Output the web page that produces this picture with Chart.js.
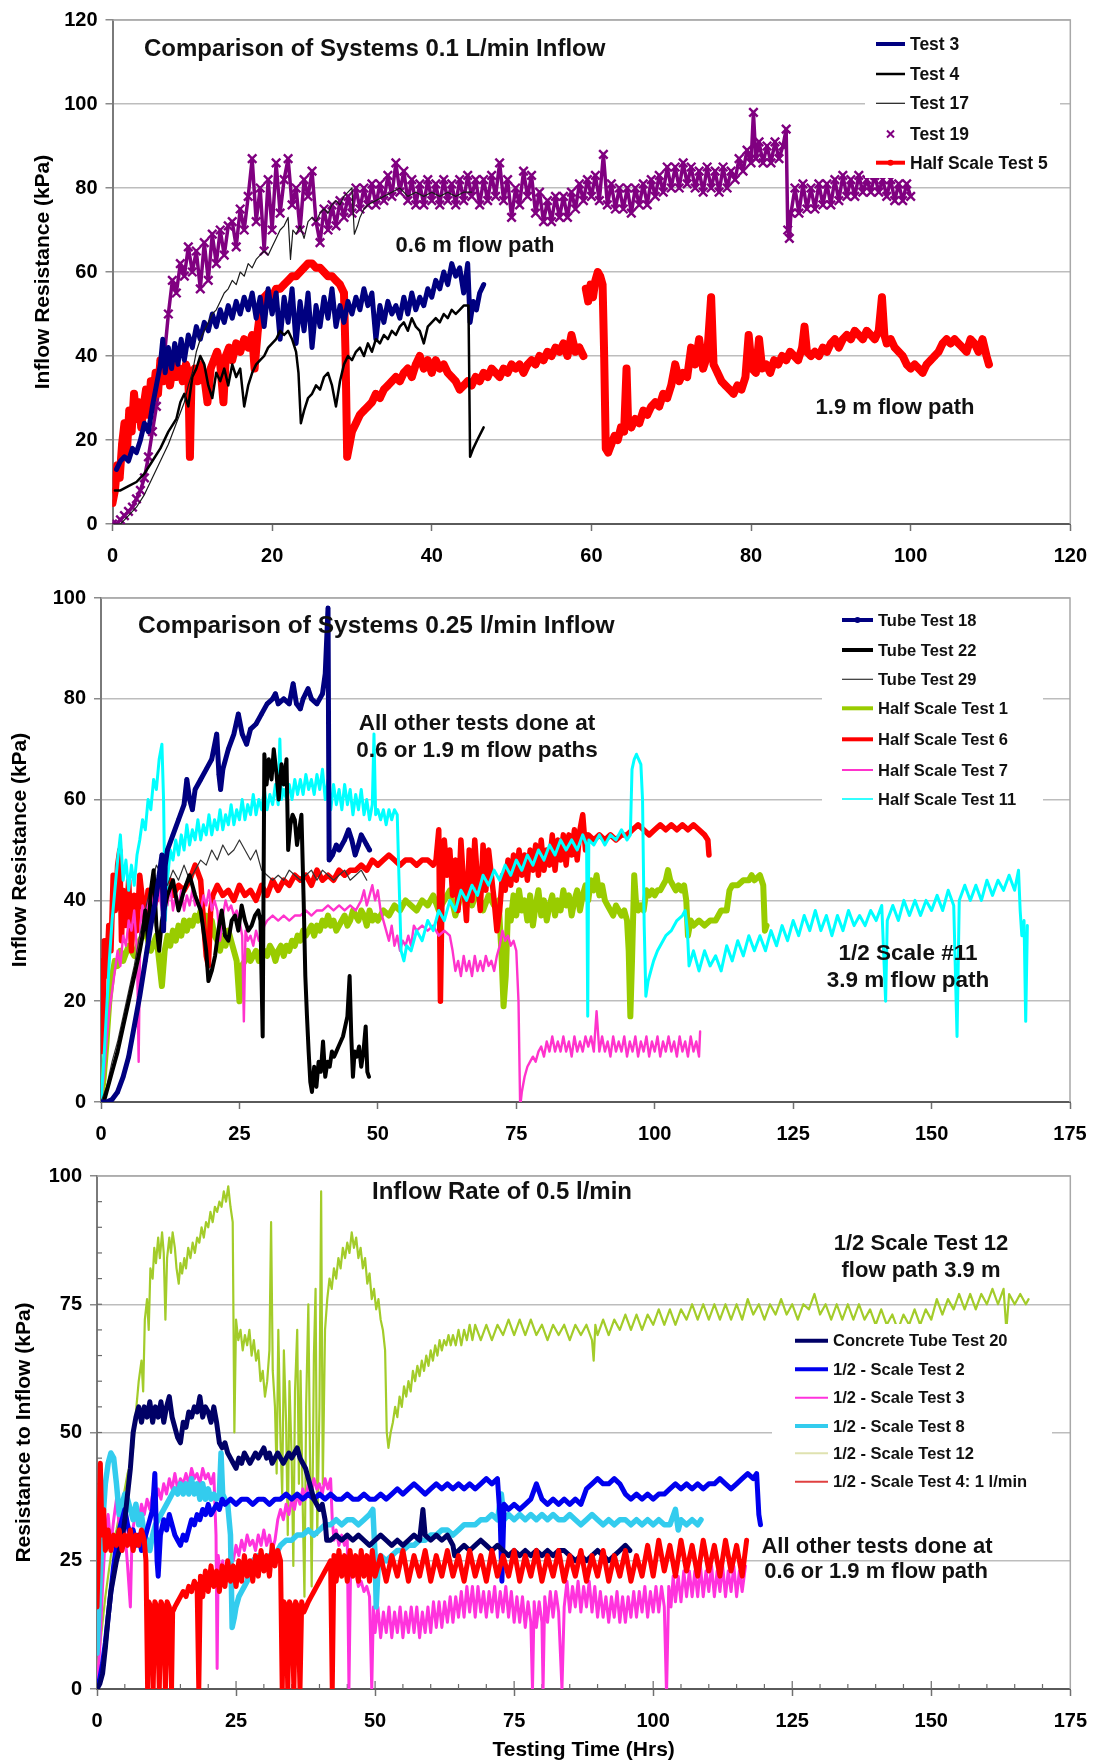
<!DOCTYPE html>
<html><head><meta charset="utf-8">
<script src="https://cdn.jsdelivr.net/npm/chart.js@4.4.0/dist/chart.umd.min.js"></script>
<style>
html,body{margin:0;padding:0;background:#fff;width:1100px;height:1764px;overflow:hidden}
.p{position:absolute;left:0;width:1100px}
canvas{display:block}
</style></head><body>
<div class="p" style="top:0;height:578px"><canvas id="c1" width="1100" height="578"></canvas></div>
<div class="p" style="top:578px;height:578px"><canvas id="c2" width="1100" height="578"></canvas></div>
<div class="p" style="top:1156px;height:608px"><canvas id="c3" width="1100" height="608"></canvas></div>
<script>
const FONT = '"Liberation Sans", Arial, Helvetica, sans-serif';

/* ================= PANEL 1 : 0.1 L/min ================= */
const p1XTicks = [0,20,40,60,80,100,120];
const p1YTicks = [0,20,40,60,80,100,120];
const p1Names = ['Test 3','Test 4','Test 17','Test 19','Half Scale Test 5'];

const p1Test3 = [[0.5,13],[1,15],[1.5,16],[2,15],[2.5,18],[3,17],[3.5,20],[4,24],[4.5,22],[5,28],[5.5,33],[6,38],[6.3,44],[6.6,36],[7,42],[7.4,37],[7.8,43],[8.2,38],[8.6,44],[9,39],[9.5,45],[10,42],[10.5,47],[11,44],[11.5,48],[12,46],[12.5,50],[13,47],[13.5,51],[14,48],[14.5,52],[15,49],[15.5,53],[16,50],[16.5,54],[17,51],[17.5,55],[18,49],[18.5,54],[19,47],[19.5,56],[20,50],[20.5,55],[21,44],[21.5,54],[22,48],[22.5,56],[23,43],[23.5,53],[24,46],[24.5,55],[25,42],[25.5,52],[26,47],[26.5,54],[27,49],[27.5,56],[28,47],[28.5,52],[29,48],[29.5,53],[30,50],[30.5,54],[31,51],[31.5,56],[32,52],[32.5,55],[33,44],[33.5,52],[34,48],[34.5,53],[35,50],[35.5,52],[36,49],[36.5,54],[37,50],[37.5,55],[38,51],[38.5,54],[39,52],[39.5,56],[40,54],[40.5,58],[41,56],[41.5,60],[42,57],[42.5,62],[43,59],[43.5,61],[44,55],[44.5,62],[44.8,48],[45.2,53],[45.6,51],[46,55],[46.5,57]];

const p1Test4 = [[0.3,8],[1,8],[2,9],[3,10],[4,12],[5,15],[6,18],[7,22],[8,25],[8.5,29],[9,31],[9.5,28],[10,35],[10.5,37],[11,40],[11.5,38],[12,33],[12.5,30],[13,36],[13.5,34],[14,37],[14.5,33],[15,38],[15.5,35],[16,37],[16.5,28],[17,33],[17.5,36],[18,38],[18.5,39],[19,40],[19.5,42],[20,43],[20.5,44],[21,46],[21.5,45],[22,46],[22.5,44],[23,41],[23.3,36],[23.6,24],[24,27],[24.5,30],[25,31],[25.5,33],[26,32],[26.5,35],[27,36],[27.5,33],[28,28],[28.5,34],[29,38],[29.5,40],[30,39],[30.5,41],[31,42],[31.5,40],[32,43],[32.5,41],[33,44],[33.5,43],[34,45],[34.5,44],[35,46],[35.5,45],[36,47],[36.5,48],[37,46],[37.5,49],[38,47],[38.5,46],[39,43],[39.5,47],[40,48],[40.5,49],[41,48],[41.5,50],[42,49],[42.5,51],[43,50],[43.5,51],[44,52],[44.6,52],[44.8,16],[45.2,18],[45.7,20],[46.5,23]];

const p1Test17 = [[0,0],[1,0],[1.5,1],[2,2],[3,4],[4,7],[5,11],[6,15],[7,19],[8,24],[9,29],[9.5,33],[10,36],[10.5,41],[11,44],[11.5,46],[12,48],[12.5,50],[13,51],[13.5,53],[14,55],[14.5,56],[15,58],[15.5,57],[16,60],[16.5,59],[17,62],[17.5,61],[18,63],[18.5,64],[19,65],[19.5,64],[20,66],[20.5,68],[21,70],[21.5,71],[22,73],[22.3,63],[22.6,70],[23,69],[23.5,71],[24,68],[24.5,72],[25,73],[25.5,72],[26,74],[26.5,75],[27,74],[27.5,76],[28,77],[28.5,76],[29,78],[29.5,79],[30,80],[30.3,69],[30.7,71],[31,73],[31.5,75],[32,76],[33,77],[34,78],[35,79],[36,80],[37,78],[38,79],[39,78],[40,79],[41,78],[42,79],[43,78],[44,79],[45,79]];

const p1Test19 = [[0,0],[0.5,0],[1,1],[1.5,2],[2,3],[2.5,4],[3,6],[3.5,8],[4,11],[4.5,16],[5,22],[5.5,28],[6,35],[6.5,40],[7,50],[7.5,58],[8,55],[8.5,62],[9,59],[9.5,66],[10,60],[10.5,65],[11,56],[11.5,67],[12,58],[12.5,69],[13,62],[13.5,70],[14,64],[14.5,71],[15,72],[15.5,66],[16,75],[16.5,70],[17,78],[17.5,87],[18,72],[18.5,80],[19,65],[19.5,82],[20,70],[20.5,86],[21,74],[21.5,82],[22,87],[22.5,76],[23,80],[23.5,70],[24,82],[24.5,78],[25,84],[25.5,72],[26,67],[26.5,75],[27,70],[27.5,76],[28,71],[28.5,77],[29,73],[29.5,78],[30,74],[30.5,80],[31,75],[31.5,80],[32,76],[32.5,81],[33,76],[33.5,81],[34,77],[34.5,83],[35,78],[35.5,86],[36,79],[36.5,84],[37,77],[37.5,82],[38,76],[38.5,81],[39,76],[39.5,82],[40,77],[40.5,81],[41,76],[41.5,82],[42,77],[42.5,81],[43,76],[43.5,82],[44,77],[44.5,83],[45,78],[45.5,82],[46,76],[46.5,82],[47,77],[47.5,83],[48,78],[48.5,86],[49,77],[49.5,82],[50,73],[50.5,80],[51,76],[51.5,84],[52,78],[52.5,83],[53,74],[53.5,79],[54,72],[54.5,77],[55,72],[55.5,78],[56,73],[56.5,78],[57,73],[57.5,79],[58,75],[58.5,81],[59,77],[59.5,82],[60,78],[60.5,83],[61,77],[61.5,88],[62,76],[62.5,81],[63,75],[63.5,80],[64,75],[64.5,80],[65,74],[65.5,80],[66,76],[66.5,81],[67,76],[67.5,82],[68,78],[68.5,83],[69,79],[69.5,85],[70,80],[70.5,85],[71,80],[71.5,86],[72,81],[72.5,85],[73,80],[73.5,84],[74,79],[74.5,85],[75,80],[75.5,84],[76,79],[76.5,85],[77,80],[77.5,84],[78,82],[78.5,87],[79,84],[79.5,89],[80,86],[80.3,98],[80.6,87],[81,91],[81.5,86],[82,90],[82.5,86],[83,91],[83.5,87],[84,90],[84.4,94],[84.6,70],[84.8,68],[85,74],[85.5,80],[86,74],[86.5,81],[87,75],[87.5,80],[88,75],[88.5,81],[89,76],[89.5,81],[90,76],[90.5,82],[91,77],[91.5,83],[92,78],[92.5,82],[93,78],[93.5,83],[94,79],[94.5,82],[95,79],[95.5,83],[96,79],[96.5,82],[97,78],[97.5,82],[98,77],[98.5,81],[99,77],[99.5,81],[100,78]];

const p1Half5 = [[0,5],[0.3,8],[0.6,14],[0.9,11],[1.2,19],[1.5,24],[1.8,17],[2.1,27],[2.4,22],[2.7,31],[3,25],[3.3,29],[3.6,23],[3.9,28],[4.2,32],[4.5,26],[4.8,34],[5.1,30],[5.4,36],[5.7,31],[6,39],[6.4,34],[6.8,37],[7.2,33],[7.6,38],[8,35],[8.4,37],[8.8,34],[9.2,38],[9.5,36],[9.7,16],[9.9,35],[10.3,37],[10.7,34],[11.1,38],[11.5,35],[11.9,29],[12.3,37],[12.7,39],[13.1,41],[13.5,38],[13.9,29],[14.2,40],[14.6,42],[15,39],[15.5,43],[16,41],[16.5,44],[17,42],[17.5,45],[17.8,37],[18.2,46],[18.6,52],[19,54],[19.5,55],[20,54],[20.5,56],[21,56],[21.5,57],[22,58],[22.5,59],[23,59],[23.5,60],[24,61],[24.5,62],[25,62],[25.5,61],[26,61],[26.5,60],[27,59],[27.5,59],[28,58],[28.5,57],[29,55],[29.2,40],[29.4,16],[29.7,19],[30,22],[30.5,24],[31,26],[31.5,27],[32,28],[32.5,29],[33,31],[33.5,30],[34,32],[34.5,33],[35,34],[35.5,35],[36,34],[36.5,36],[37,37],[37.5,35],[38,38],[38.5,40],[39,37],[39.5,39],[40,36],[40.5,39],[41,37],[41.5,38],[42,36],[42.5,35],[43,34],[43.5,32],[44,33],[44.5,34],[45,33],[45.5,35],[46,34],[46.5,36],[47,35],[47.5,37],[48,36],[48.5,35],[49,37],[49.5,36],[50,38],[50.5,37],[51,38],[51.5,36],[52,38],[52.5,39],[53,38],[53.5,40],[54,39],[54.5,41],[55,40],[55.5,42],[56,41],[56.5,43],[57,40],[57.5,45],[58,41],[58.5,42],[59,40],[59.2,null],[59.3,56],[59.6,53],[59.9,57],[60.2,54],[60.5,58],[60.8,60],[61.1,59],[61.4,57],[61.6,40],[61.8,18],[62.1,17],[62.5,19],[62.9,21],[63.3,20],[63.7,23],[64.1,22],[64.4,37],[64.6,24],[65,23],[65.5,25],[66,24],[66.5,27],[67,26],[67.5,28],[68,29],[68.5,28],[69,31],[69.5,30],[70,33],[70.5,38],[71,34],[71.5,36],[72,35],[72.5,42],[73,38],[73.5,44],[74,37],[74.5,40],[75,54],[75.3,38],[75.8,36],[76.3,34],[76.8,33],[77.3,32],[77.8,31],[78.3,33],[78.8,32],[79.3,35],[79.7,45],[80.1,37],[80.6,36],[81,44],[81.4,37],[81.9,38],[82.4,36],[82.9,39],[83.4,38],[83.9,40],[84.4,39],[84.9,41],[85.4,40],[85.9,39],[86.4,42],[86.7,47],[87,41],[87.5,40],[88,41],[88.5,40],[89,42],[89.5,41],[90,43],[90.5,44],[91,42],[91.5,44],[92,45],[92.5,44],[93,46],[93.5,45],[94,44],[94.5,46],[95,45],[95.5,44],[96,46],[96.4,54],[96.7,45],[97,43],[97.5,44],[98,42],[98.5,41],[99,40],[99.5,38],[100,37],[100.5,38],[101,37],[101.5,36],[102,38],[102.5,39],[103,40],[103.5,41],[104,43],[104.5,44],[105,43],[105.5,44],[106,43],[106.5,42],[107,41],[107.5,44],[108,43],[108.5,41],[109,44],[109.5,40],[109.8,38]];

/* ================= PANEL 2 : 0.25 l/min ================= */
const p2XTicks = [0,25,50,75,100,125,150,175];
const p2YTicks = [0,20,40,60,80,100];
const p2Names = ['Tube Test 18','Tube Test 22','Tube Test 29','Half Scale Test 1','Half Scale Test 6','Half Scale Test 7','Half Scale Test 11'];

const p2Tube18 = [[0,0],[1,0],[2,0.5],[3,2],[4,5],[5,9],[6,15],[7,21],[8,28],[9,35],[10,41],[10.5,45],[11,49],[11.3,34],[11.6,47],[12,50],[13,53],[14,56],[15,59],[15.5,64],[16,60],[16.5,58],[17,62],[18,64],[19,66],[20,68],[20.9,73],[21.3,65],[21.6,62],[22,66],[23,70],[24,73],[24.8,77],[25.5,73],[26.3,71],[27,74],[28,75],[29,77],[30,79],[31,80],[31.5,81],[32,79],[33,80],[34,79],[34.7,83],[35.3,79],[36,78],[36.5,80],[37.4,82],[38,80],[39,79],[40,81],[40.5,85],[41,98],[41.2,48],[41.8,49],[42.5,51],[43,50],[44,52],[44.7,54],[45.3,52],[45.9,49],[46.5,51],[47,53],[48,51],[48.5,50]];

const p2Tube22 = [[0.5,0],[1,2],[2,6],[3,10],[4,15],[5,20],[6,25],[7,30],[7.5,33],[8,38],[8.5,32],[9,42],[9.5,46],[10,35],[10.5,30],[11,36],[12,41],[13,44],[14,38],[15,42],[16,45],[17,41],[18,38],[19,30],[19.4,24],[20,26],[20.6,29],[21.2,34],[21.8,38],[22.4,33],[23,32],[23.6,36],[24.2,37],[24.8,34],[25.4,39],[26,36],[26.6,34],[27.2,35],[27.8,37],[28.4,38],[28.8,36],[29.2,13],[29.5,69],[29.9,63],[30.3,68],[30.8,64],[31.2,70],[31.7,65],[32.1,60],[32.6,67],[33,63],[33.5,68],[33.8,50],[34.2,55],[34.6,57],[35,56],[35.4,51],[35.8,54],[36.2,57],[36.6,40],[36.9,25],[37.2,17],[37.5,10],[37.8,4],[38.1,2],[38.5,7],[38.9,3],[39.3,8],[39.7,6],[40.1,12],[40.5,5],[40.9,8],[41.3,7],[41.7,10],[42.1,9],[42.5,10],[42.9,11],[43.3,12],[43.7,13],[44.1,15],[44.5,17],[44.9,25],[45.2,13],[45.5,5],[45.8,10],[46.2,9],[46.6,11],[47,7],[47.4,10],[47.8,15],[48.1,6],[48.4,5]];

const p2Tube29 = [[0,0],[1,3],[2,8],[3,12],[4,17],[5,22],[6,27],[7,33],[8,38],[9,43],[10,47],[11,45],[12,43],[13,46],[14,44],[15,47],[16,44],[17,46],[18,48],[19,47],[20,50],[21,48],[22,51],[23,49],[24,50],[25,52],[26,50],[27,48],[28,50],[29,46],[30,45],[31,44],[32,45],[33,44],[34,46],[35,45],[36,44],[37,45],[38,46],[39,44],[40,46],[41,45],[42,44],[43,45],[44,46],[45,44],[46,45],[47,46],[48,44]];

const p2Half1 = [[0,0],[0.5,5],[1,12],[1.5,20],[2,25],[2.5,28],[3,27],[3.5,30],[4,28],[5,31],[6,29],[7,32],[8,34],[9,30],[10,33],[10.5,28],[11,23],[11.5,30],[12,33],[12.5,31],[13,34],[13.5,32],[14,35],[14.5,33],[15,36],[15.5,34],[16,36],[16.5,35],[17,37],[17.5,36],[18,38],[18.5,36],[19,37],[19.5,34],[20,36],[20.5,33],[21,32],[21.5,30],[22,33],[22.5,31],[23,34],[23.5,32],[24,30],[24.5,28],[25,20],[25.4,27],[26,28],[26.5,30],[27,28],[27.5,29],[28,30],[28.5,28],[29,29],[29.5,30],[30,29],[30.5,31],[31,30],[31.5,28],[32,30],[32.5,31],[33,29],[33.5,31],[34,30],[34.5,32],[35,31],[35.5,33],[36,32],[36.5,34],[37,33],[37.5,34],[38,35],[38.5,33],[39,35],[39.5,34],[40,36],[40.5,35],[41,37],[41.5,35],[42,36],[42.5,34],[43,35],[43.5,36],[44,37],[44.5,35],[45,36],[45.5,38],[46,37],[46.5,36],[47,38],[47.5,37],[48,35],[48.5,38],[49,36],[49.5,37],[50,36],[51,38],[52,37],[53,39],[54,38],[55,40],[56,39],[57,38],[58,40],[59,39],[60,41],[61,38],[62,40],[63,42],[64,37],[65,41],[66,43],[67,39],[68,42],[69,38],[70,41],[71,39],[71.8,40],[72.3,30],[72.7,19],[73.1,25],[73.5,38],[74,36],[74.5,41],[75,37],[75.5,42],[76,38],[76.5,40],[77,36],[77.5,41],[78,35],[78.5,39],[79,42],[79.5,37],[80,40],[80.5,36],[81,39],[81.5,41],[82,37],[82.5,40],[83,38],[83.5,42],[84,39],[84.5,41],[85,37],[85.5,40],[86,42],[86.5,38],[87,41],[87.5,43],[88,40],[88.5,44],[89,42],[89.5,45],[90,41],[90.5,43],[91,40],[91.5,39],[92,38],[92.5,37],[93,39],[93.5,38],[94,37],[94.5,38],[95,36],[95.3,30],[95.6,17],[95.9,28],[96.3,45],[96.6,40],[97,38],[97.5,39],[98,38],[98.5,42],[99,41],[99.5,42],[100,41],[100.5,42],[101,42],[101.5,43],[102,44],[102.4,46],[102.8,44],[103.3,43],[103.8,42],[104.3,43],[104.8,42],[105.3,43],[105.7,40],[106,33],[106.5,36],[107,35],[108,36],[109,35],[110,36],[111,36],[112,38],[113,38],[113.5,42],[114,43],[115,43],[116,44],[117,44],[117.5,45],[118,44],[119,45],[119.6,43],[119.9,34],[120.2,35]];

const p2Half6 = [[0,28],[0.3,10],[0.6,32],[1,25],[1.4,35],[1.8,30],[2.2,45],[2.6,38],[3,47],[3.4,50],[3.7,32],[4,42],[4.5,35],[5,44],[5.5,30],[6,41],[6.5,34],[7,45],[7.5,40],[8,36],[8.5,42],[9,38],[9.5,43],[10,40],[10.5,44],[11,41],[11.5,45],[12,42],[12.5,44],[13,41],[14,43],[15,42],[16,44],[17,47],[18,44],[18.5,36],[19,29],[19.4,27],[19.8,38],[20.2,41],[21,43],[22,41],[23,42],[24,40],[25,43],[26,41],[27,42],[28,40],[29,43],[30,41],[31,44],[32,42],[33,44],[34,43],[35,45],[36,44],[37,45],[38,43],[39,46],[40,44],[41,45],[42,44],[43,46],[44,45],[45,46],[46,46],[47,47],[48,46],[49,48],[50,47],[51,48],[52,49],[53,48],[54,47],[55,48],[56,48],[57,47],[58,48],[59,48],[60,47],[60.5,48],[61,54],[61.3,20],[61.6,42],[62,52],[62.5,45],[63,50],[63.5,41],[64,48],[64.5,38],[65,52],[65.5,43],[66,36],[66.5,50],[67,40],[67.5,52],[68,44],[68.5,38],[69,51],[69.5,42],[70,50],[70.5,45],[71,40],[71.5,34],[72,38],[72.5,45],[73,42],[73.5,48],[74,43],[74.5,49],[75,44],[75.5,50],[76,45],[76.5,49],[77,44],[77.5,50],[78,46],[78.5,51],[79,45],[79.5,52],[80,46],[80.5,50],[81,47],[81.5,53],[82,46],[82.5,52],[83,48],[83.5,53],[84,47],[84.5,53],[85,49],[85.5,54],[86,48],[86.5,54],[87,57],[87.5,50],[88,53],[89,52],[90,53],[91,52],[92,53],[93,52],[94,53],[95,53],[96,54],[97,55],[98,54],[99,53],[100,54],[101,55],[102,54],[103,55],[104,54],[105,55],[106,54],[107,55],[108,54],[109,53],[109.6,52],[109.8,49]];

const p2Half7 = [[0,0],[0.5,5],[1,12],[1.5,18],[2,22],[2.5,26],[3,30],[3.5,27],[4,33],[4.5,31],[5,36],[5.5,34],[6,38],[6.5,30],[6.8,8],[7.1,35],[7.5,39],[8,37],[8.5,40],[9,38],[9.5,41],[10,39],[10.5,42],[11,38],[11.5,41],[12,39],[12.5,43],[13,38],[13.5,41],[14,39],[14.5,42],[15,38],[15.5,41],[16,39],[16.5,42],[17,39],[17.5,40],[18,38],[18.5,41],[19,39],[19.5,42],[20,38],[20.5,40],[21,38],[21.5,32],[22,37],[22.5,40],[23,38],[23.5,39],[24,37],[24.5,38],[25,36],[25.5,33],[25.8,16],[26.1,34],[26.5,32],[27,33],[27.5,31],[28,34],[28.5,32],[29,33],[29.5,35],[30,36],[31,37],[32,36],[33,37],[34,36],[35,37],[36,37],[37,38],[38,37],[39,38],[40,38],[41,39],[42,38],[43,39],[44,38],[45,39],[46,38],[47,40],[47.5,42],[48,39],[48.5,41],[49,43],[49.5,40],[50,42],[50.5,38],[51,36],[51.5,34],[52,32],[52.5,35],[53,31],[53.5,33],[54,30],[54.5,32],[55,31],[55.5,33],[56,31],[56.5,35],[57,34],[58,35],[59,34],[60,35],[61,33],[62,34],[63,33],[63.5,30],[64,26],[64.5,28],[65,25],[65.5,29],[66,26],[66.5,28],[67,25],[67.5,29],[68,26],[68.5,28],[69,26],[69.5,29],[70,27],[70.5,28],[71,26],[71.5,29],[72,31],[72.5,34],[73,32],[73.5,33],[74,31],[74.5,32],[75,30],[75.4,20],[75.7,-1],[76,2],[76.5,5],[77,7],[77.5,8],[78,9],[78.5,8],[79,10],[79.5,11],[80,9],[80.5,12],[81,10],[81.5,13],[82,10],[82.5,12],[83,10],[83.5,13],[84,10],[84.5,12],[85,9],[85.5,13],[86,10],[86.5,12],[87,10],[87.5,13],[88,11],[88.5,13],[89,10],[89.5,18],[90,10],[90.5,13],[91,10],[91.5,12],[92,9],[92.5,13],[93,10],[93.5,12],[94,10],[94.5,13],[95,9],[95.5,12],[96,10],[96.5,13],[97,9],[97.5,12],[98,10],[98.5,13],[99,9],[99.5,12],[100,10],[100.5,13],[101,9],[101.5,12],[102,10],[102.5,13],[103,10],[103.5,12],[104,9],[104.5,13],[105,10],[105.5,12],[106,9],[106.5,13],[107,10],[107.5,12],[108,9],[108.2,14]];

const p2Half11 = [[0,0],[0.5,8],[1,18],[1.5,28],[2,36],[2.5,42],[3,48],[3.5,53],[4,44],[4.5,48],[5,42],[5.5,47],[6,43],[6.5,49],[7,52],[7.5,56],[8,54],[8.5,60],[9,58],[9.5,64],[10,62],[10.5,68],[11,71],[11.3,60],[11.6,36],[12,44],[12.5,50],[13,48],[13.5,52],[14,49],[14.5,53],[15,50],[15.5,55],[16,51],[16.5,54],[17,52],[17.5,56],[18,52],[18.5,55],[19,53],[19.5,57],[20,53],[20.5,56],[21,54],[21.5,58],[22,54],[22.5,57],[23,55],[23.5,59],[24,55],[24.5,58],[25,56],[25.5,60],[26,56],[26.5,59],[27,57],[27.5,61],[28,57],[28.5,60],[29,58],[29.5,62],[30,58],[30.5,61],[31,59],[31.5,63],[32,59],[32.3,72],[32.6,60],[33,62],[33.5,60],[34,63],[34.5,60],[35,64],[35.5,61],[36,64],[36.5,61],[37,65],[37.5,62],[38,64],[38.5,61],[39,65],[39.5,62],[40,66],[40.5,60],[41,64],[41.5,58],[42,63],[42.5,59],[43,62],[43.5,58],[44,63],[44.5,59],[45,62],[45.5,57],[46,61],[46.5,58],[47,62],[47.5,57],[48,60],[48.5,56],[49,59],[49.3,73],[49.6,57],[50,58],[50.5,56],[51,58],[51.5,55],[52,58],[52.5,56],[53,58],[53.5,57],[53.8,45],[54.2,30],[54.7,28],[55.2,31],[56,30],[57,34],[58,32],[59,36],[60,34],[61,38],[62,36],[63,40],[64,38],[65,42],[66,40],[67,43],[68,41],[69,45],[70,43],[71,46],[72,44],[73,47],[74,45],[75,48],[76,46],[77,49],[78,47],[79,50],[80,48],[81,51],[82,49],[83,52],[84,50],[85,52],[86,50],[87,53],[87.7,51],[87.9,17],[88.1,52],[89,51],[90,53],[91,51],[92,53],[93,52],[94,54],[95,52],[95.6,53],[95.9,66],[96.3,68],[96.7,69],[97.1,68],[97.5,67],[97.8,60],[98.1,35],[98.4,21],[98.8,24],[99.3,26],[99.8,28],[100.5,30],[101,31],[102,33],[103,34],[104,36],[105,37],[105.5,38],[105.9,34],[106.2,27],[107,30],[108,26],[109,30],[110,27],[111,29],[112,26],[113,31],[114,28],[115,32],[116,29],[117,33],[118,30],[119,33],[120,30],[121,34],[122,31],[123,35],[124,32],[125,36],[126,33],[127,37],[128,34],[129,38],[130,34],[131,37],[132,33],[133,37],[134,34],[135,38],[136,35],[137,37],[138,35],[139,38],[140,36],[141,39],[141.7,20],[142,36],[143,39],[144,36],[145,40],[146,37],[147,40],[148,37],[149,40],[150,38],[151,41],[152,38],[153,42],[154,39],[154.6,13],[155,40],[156,43],[157,40],[158,43],[159,40],[160,44],[161,41],[162,44],[163,42],[164,45],[165,42],[165.7,46],[166,38],[166.3,33],[166.7,36],[167,16],[167.3,35]];

/* ================= PANEL 3 : 0.5 l/min ================= */
const p3XTicks = [0,25,50,75,100,125,150,175];
const p3YTicks = [0,25,50,75,100];
const p3Names = ['Concrete Tube Test 20','1/2 - Scale Test 2','1/2 - Scale Test 3','1/2 - Scale Test 8','1/2 - Scale Test 12','1/2 - Scale Test 4: 1 l/min'];

const p3Tube20 = [[0,0],[0.5,1],[1,3],[1.5,8],[2,14],[2.5,19],[3,22],[3.5,25],[4,27],[4.5,29],[5,33],[5.5,38],[6,43],[6.5,50],[7,53],[7.5,55],[8,52],[8.5,55],[9,53],[9.5,56],[10,52],[10.5,55],[11,53],[11.5,56],[12,52],[12.5,55],[13,57],[13.5,53],[14,51],[14.5,49],[15,48],[15.5,52],[16,51],[16.5,54],[17,53],[17.5,55],[18,54],[18.5,57],[19,53],[19.5,55],[20,54],[20.5,52],[21,55],[21.5,52],[22,48],[22.5,47],[23,48],[23.5,46],[24,45],[24.5,44],[25,43],[25.5,45],[26,44],[26.5,46],[27,45],[27.5,44],[28,45],[28.5,46],[29,45],[29.5,46],[30,47],[30.5,45],[31,46],[31.5,44],[32,45],[32.5,46],[33,45],[33.5,44],[34,45],[34.5,46],[35,45],[35.5,46],[36,47],[36.5,45],[37,44],[37.5,43],[38,41],[38.5,39],[39,37],[39.5,36],[40,35],[40.5,36],[41,33],[41.3,29],[42,29],[43,30],[44,29],[45,30],[46,29],[47,30],[48,29],[49,28],[50,29],[51,30],[52,29],[53,28],[54,29],[55,28],[56,29],[57,30],[58,29],[58.6,35],[59,30],[60,29],[61,30],[62,29],[63,30],[64,28],[64.3,26],[65,27],[66,28],[67,27],[68,28],[69,29],[70,28],[71,27],[72,28],[73,27],[74,26],[75,27],[76,26],[77,27],[78,26],[79,27],[80,26],[81,27],[82,26],[83,27],[84,27],[85,26],[86,25],[87,26],[88,25],[89,26],[90,27],[91,26],[92,25],[93,26],[94,27],[95,28],[95.8,27]];

const p3Scale2 = [[0,0],[0.5,2],[1,5],[1.5,9],[2,14],[2.5,19],[3,24],[3.5,28],[4,31],[4.5,33],[5,35],[5.5,32],[6,30],[6.5,31],[7,28],[7.5,30],[8,27],[8.5,29],[9,31],[9.5,33],[10,35],[10.4,42],[10.8,25],[11,22],[11.4,30],[12,33],[12.5,31],[13,34],[13.5,32],[14,30],[14.5,29],[15,28],[15.5,30],[16,29],[16.5,31],[17,33],[17.5,32],[18,34],[18.5,33],[19,35],[19.5,34],[20,36],[20.5,34],[21,35],[21.5,36],[22,35],[22.5,37],[23,36],[24,37],[25,36],[26,37],[27,37],[28,36],[29,37],[30,37],[31,36],[32,37],[33,37],[34,38],[35,37],[36,38],[37,37],[38,38],[39,37],[40,38],[41,37],[42,38],[43,37],[44,37],[45,38],[46,37],[47,37],[48,38],[49,37],[50,37],[51,38],[52,37],[53,38],[54,39],[55,38],[56,39],[57,40],[58,39],[59,38],[60,39],[61,40],[62,39],[63,40],[64,39],[65,40],[66,39],[67,40],[68,39],[69,40],[70,41],[71,40],[72,41],[72.5,33],[72.8,21],[73.2,36],[74,35],[75,36],[76,35],[77,36],[78,37],[79,40],[80,37],[81,36],[82,37],[83,36],[84,37],[85,36],[86,37],[87,36],[88,39],[89,40],[90,41],[91,40],[92,40],[93,41],[94,40],[95,38],[96,37],[97,38],[98,37],[99,38],[100,37],[101,38],[102,38],[103,39],[104,40],[105,39],[106,40],[107,39],[108,40],[109,39],[110,40],[111,40],[112,41],[113,40],[114,39],[115,40],[116,41],[117,42],[118,41],[118.6,42],[119,34],[119.3,32]];

const p3Scale3 = [[0,0],[0.5,8],[1,20],[1.5,30],[2,34],[2.5,28],[3,33],[3.5,37],[4,32],[4.5,29],[5,31],[5.5,24],[6,16],[6.3,30],[7,35],[7.5,33],[8,36],[8.5,34],[9,37],[9.5,35],[10,38],[10.5,36],[11,39],[11.5,37],[12,40],[12.5,38],[13,41],[13.5,39],[14,42],[14.5,39],[15,41],[15.5,40],[16,42],[16.5,40],[17,43],[17.5,41],[18,42],[18.5,40],[19,43],[19.5,41],[20,42],[20.5,40],[21,42],[21.4,30],[21.6,4],[21.8,26],[22.2,22],[22.6,25],[23,21],[23.4,24],[24,26],[24.5,25],[25,28],[25.5,26],[26,29],[26.5,27],[27,30],[27.5,28],[28,29],[28.5,27],[29,30],[29.5,28],[30,31],[30.5,28],[31,30],[31.5,27],[32,29],[32.5,33],[33,35],[33.5,33],[34,36],[34.5,34],[35,37],[35.5,35],[36,38],[36.5,36],[37,39],[37.5,37],[38,40],[38.5,38],[39,41],[39.5,39],[40,40],[40.5,38],[41,41],[41.5,39],[42,41],[42.3,33],[42.6,29],[43,31],[43.5,28],[44,30],[44.5,28],[45,29],[45.3,0],[45.6,24],[46,22],[46.5,23],[47,20],[47.5,21],[48,19],[48.5,20],[49,18],[49.4,0],[49.7,16],[50,11],[50.5,16],[51,10],[51.5,15],[52,11],[52.5,16],[53,10],[53.5,15],[54,11],[54.5,16],[55,10],[55.5,15],[56,11],[56.5,16],[57,11],[57.5,16],[58,10],[58.5,15],[59,11],[59.5,16],[60,11],[60.5,17],[61,12],[61.5,17],[62,12],[62.5,17],[63,13],[63.5,18],[64,13],[64.5,18],[65,14],[65.5,19],[66,14],[66.5,20],[67,15],[67.5,20],[68,14],[68.5,20],[69,15],[69.5,19],[70,14],[70.5,19],[71,15],[71.5,20],[72,14],[72.5,19],[73,15],[73.5,20],[74,14],[74.5,19],[75,13],[75.5,18],[76,13],[76.5,18],[77,12],[77.5,17],[78,13],[78.3,0],[78.6,17],[79,12],[79.5,17],[80,13],[80.2,0],[80.5,18],[81,13],[81.5,19],[82,14],[82.5,19],[83,15],[83.6,0],[84,16],[84.5,21],[85,15],[85.5,20],[86,16],[86.5,21],[87,15],[87.5,20],[88,16],[88.5,21],[89,15],[89.5,20],[90,14],[90.5,19],[91,14],[91.5,18],[92,13],[92.5,18],[93,14],[93.5,19],[94,13],[94.5,18],[95,13],[95.5,18],[96,14],[96.5,19],[97,14],[97.5,19],[98,15],[98.5,20],[99,14],[99.5,19],[100,15],[100.5,20],[101,15],[101.5,20],[102,16],[102.4,-1],[102.8,20],[103.2,16],[103.6,22],[104,17],[104.5,22],[105,17],[105.5,23],[106,18],[106.5,23],[107,18],[107.5,23],[108,18],[108.5,24],[109,18],[109.5,23],[110,19],[110.5,24],[111,18],[111.5,23],[112,19],[112.5,24],[113,18],[113.5,23],[114,19],[114.5,24],[115,18],[115.5,23],[116,19],[116.6,24]];

const p3Scale8 = [[0,7],[0.5,20],[1,32],[1.5,40],[2,44],[2.5,46],[3,45],[3.5,40],[4,34],[4.5,36],[5,38],[5.5,37],[6,35],[6.5,33],[7,36],[7.5,32],[8,34],[8.5,30],[9,29],[9.5,27],[10,30],[10.5,32],[11,33],[11.5,34],[12,35],[12.5,36],[13,37],[13.5,38],[14,39],[14.5,38],[15,40],[15.5,38],[16,40],[16.5,38],[17,41],[17.5,38],[18,40],[18.5,37],[19,40],[19.5,37],[20,39],[20.5,37],[21,38],[21.5,37],[22,38],[22.3,46],[22.6,38],[23,37],[23.5,36],[24,30],[24.3,12],[24.7,14],[25,16],[25.5,18],[26,19],[26.5,20],[27,21],[27.5,23],[28,25],[29,26],[30,25],[31,26],[32,26],[33,28],[34,29],[35,29],[36,30],[37,30],[38,31],[39,30],[40,31],[41,32],[42,32],[43,33],[44,32],[45,33],[46,33],[47,32],[48,33],[49,34],[49.6,35],[50,26],[50.2,16],[50.6,25],[51,26],[52,25],[53,26],[54,27],[55,27],[56,28],[57,28],[58,29],[59,29],[60,30],[61,30],[62,31],[63,31],[64,30],[65,31],[66,32],[67,32],[68,32],[69,33],[70,33],[71,34],[72,33],[72.7,38],[73.2,33],[74,34],[75,33],[76,34],[77,33],[78,34],[79,33],[80,34],[81,33],[82,34],[83,33],[84,33],[85,34],[86,33],[87,32],[88,33],[89,34],[90,33],[91,32],[92,33],[93,32],[94,33],[95,33],[96,32],[97,33],[98,32],[99,33],[100,32],[101,33],[102,32],[103,32],[104,35],[104.5,31],[105,33],[106,32],[107,33],[108,32],[108.6,33]];

const p3Scale12 = [[0,3],[0.5,8],[1,13],[1.5,18],[2,22],[2.5,26],[3,29],[3.5,31],[4,34],[4.5,36],[5,39],[5.5,42],[6,44],[6.5,47],[7,54],[7.5,60],[8,64],[8.3,58],[8.6,72],[9,76],[9.3,70],[9.6,82],[10,80],[10.3,86],[10.6,83],[11,88],[11.3,84],[11.7,89],[12,85],[12.3,72],[12.6,84],[13,88],[13.3,85],[13.6,89],[14,86],[14.3,82],[14.7,79],[15,83],[15.3,81],[15.7,84],[16,82],[16.4,86],[16.8,84],[17.2,87],[17.6,85],[18,88],[18.4,87],[18.8,90],[19.2,88],[19.6,91],[20,90],[20.4,93],[20.8,91],[21.2,94],[21.6,93],[22,95],[22.4,94],[22.8,97],[23.2,95],[23.6,98],[24,94],[24.4,91],[24.7,50],[25,72],[25.4,68],[25.8,70],[26.2,66],[26.6,69],[27,67],[27.4,70],[27.8,65],[28.2,68],[28.6,64],[29,66],[29.4,60],[29.8,62],[30.2,57],[30.6,60],[31,66],[31.3,91],[31.6,62],[32,55],[32.3,42],[32.6,70],[33,48],[33.3,38],[33.6,66],[34,52],[34.3,30],[34.6,60],[35,45],[35.3,24],[35.6,58],[36,70],[36.3,40],[36.6,62],[37,35],[37.3,18],[37.6,55],[38,75],[38.3,45],[38.6,20],[39,65],[39.3,78],[39.6,30],[40,55],[40.3,97],[40.6,40],[41,70],[41.4,76],[41.8,80],[42.2,78],[42.6,82],[43,80],[43.4,84],[43.8,82],[44.2,86],[44.6,84],[45,87],[45.4,85],[45.8,89],[46.2,86],[46.6,88],[47,84],[47.4,86],[47.8,82],[48.2,84],[48.6,79],[49,81],[49.4,76],[49.8,78],[50.2,74],[50.6,76],[51,72],[51.4,70],[51.8,66],[52.1,50],[52.4,47],[52.8,50],[53.2,52],[53.6,55],[54,53],[54.4,57],[54.8,55],[55.2,59],[55.6,57],[56,60],[56.4,58],[56.8,62],[57.2,60],[57.6,63],[58,61],[58.4,64],[58.8,62],[59.2,65],[59.6,63],[60,66],[60.4,64],[60.8,67],[61.2,65],[61.6,68],[62,66],[62.4,68],[62.8,67],[63.2,69],[63.6,67],[64,69],[64.5,67],[65,70],[65.5,67],[66,70],[66.5,68],[67,71],[67.5,68],[68,71],[69,68],[70,71],[71,68],[72,71],[73,69],[74,72],[75,69],[76,72],[77,69],[78,72],[79,69],[80,71],[81,68],[82,71],[83,69],[84,71],[85,68],[86,71],[87,69],[88,71],[89,68],[89.3,64],[89.6,71],[90,69],[91,72],[92,69],[93,72],[94,70],[95,73],[96,70],[97,73],[98,70],[99,73],[100,71],[101,74],[102,71],[103,74],[104,71],[105,74],[106,72],[107,75],[108,72],[109,75],[110,72],[111,75],[112,72],[113,75],[114,72],[115,75],[116,72],[117,76],[118,73],[119,75],[120,72],[121,75],[122,73],[123,76],[124,73],[125,75],[126,72],[127,75],[128,74],[129,77],[130,73],[131,75],[132,72],[133,75],[134,72],[135,75],[136,72],[137,75],[138,72],[139,74],[140,71],[141,74],[142,71],[143,73],[144,70],[145,73],[146,71],[147,74],[148,71],[149,74],[150,72],[151,76],[152,73],[153,76],[154,74],[155,77],[156,74],[157,77],[158,74],[159,77],[160,75],[161,78],[162,75],[163,78],[163.5,70],[164,77],[165,75],[166,77],[167,75],[167.5,76]];

const p3Scale4 = [[0,16],[0.3,28],[0.6,44],[0.9,30],[1.2,35],[1.5,27],[2,31],[2.5,27],[3,30],[3.5,28],[4,31],[4.5,27],[5,30],[5.5,28],[6,31],[6.5,27],[7,30],[7.5,28],[8,31],[8.5,29],[8.8,25],[9.1,0],[9.3,17],[9.7,16],[10.1,0],[10.4,17],[10.8,16],[11.2,0],[11.5,17],[11.9,16],[12.3,0],[12.6,17],[13,16],[13.4,0],[13.6,15],[14,16],[14.5,17],[15,18],[15.5,19],[16,18],[16.5,20],[17,19],[17.5,21],[18,20],[18.3,0],[18.6,22],[19,18],[19.5,23],[20,19],[20.5,24],[21,20],[21.5,23],[22,19],[22.5,24],[23,20],[23.5,25],[24,21],[24.5,24],[25,20],[25.5,25],[26,21],[26.5,26],[27,22],[27.5,25],[28,21],[28.5,26],[29,22],[29.5,27],[30,23],[30.5,26],[31,22],[31.5,28],[32,24],[32.5,27],[33,25],[33.3,0],[33.6,17],[34,16],[34.3,0],[34.6,17],[35,16],[35.4,0],[35.7,17],[36.1,16],[36.5,0],[36.8,17],[37.2,15],[37.6,16],[38,17],[38.5,18],[39,19],[39.5,20],[40,21],[40.5,22],[41,23],[41.5,24],[42,25],[42.3,0],[42.6,26],[43,21],[43.5,27],[44,22],[44.5,26],[45,21],[45.5,27],[46,22],[46.5,26],[47,21],[47.5,27],[48,22],[48.5,26],[49,21],[49.5,27],[50,22],[51,26],[52,21],[53,26],[54,22],[55,27],[56,21],[57,26],[58,22],[59,27],[60,21],[61,26],[62,22],[63,27],[64,22],[65,26],[66,21],[67,27],[68,22],[69,26],[70,21],[71,27],[72,22],[73,26],[74,22],[75,27],[76,21],[77,26],[78,22],[79,27],[80,21],[81,26],[82,22],[83,27],[84,21],[85,26],[86,22],[87,27],[88,21],[89,26],[90,22],[91,27],[92,21],[93,26],[94,22],[95,27],[96,21],[97,26],[98,22],[99,28],[100,22],[101,29],[102,23],[103,28],[104,22],[105,29],[106,23],[107,28],[108,22],[109,29],[110,23],[111,28],[112,22],[113,29],[114,23],[115,28],[116,22],[116.8,29]];

/* ================= configuration ================= */
const P1 = {
  H: 578, area: {left: 112.5, right: 1082, top: 19, bottom: 524},
  xTicks: p1XTicks, yTicks: p1YTicks, xMax: 120, yMax: 120,
  yTitle: {text: 'Inflow Resistance (kPa)', pad: 30.4},
  datasets: [
    {label: p1Names[0], points: p1Test3, color: '#000080', w: 5, order: 2, legendW: 4},
    {label: p1Names[1], points: p1Test4, color: '#000000', w: 2.5, order: 1},
    {label: p1Names[2], points: p1Test17, color: '#1a1a1a', w: 1.2, order: 0},
    {label: p1Names[3], points: p1Test19, color: '#800080', w: 3.5, order: 4, pr: 6, ps: 'crossRot', pbw: 2.4, legendCross: true},
    {label: p1Names[4], points: p1Half5, color: '#ff0000', w: 8, order: 3, pr: 3.5, legendDot: 3, legendW: 4}
  ],
  legend: {box: [865, 26, 195, 152], x0: 876, x1: 905, tx: 910, ys: [44, 74, 103.3, 134, 162.7], size: 17.5},
  texts: [
    {t: 'Comparison of Systems 0.1 L/min Inflow', x: 144, y: 49, align: 'left', size: 24},
    {t: '0.6 m flow path', x: 475, y: 246, align: 'center', size: 22},
    {t: '1.9 m flow path', x: 895, y: 408, align: 'center', size: 22}
  ]
};

const P2 = {
  H: 578, area: {left: 101, right: 1070, top: 15, bottom: 524},
  xTicks: p2XTicks, yTicks: p2YTicks, xMax: 175, yMax: 100,
  yTitle: {text: 'Inflow Resistance (kPa)', pad: 7.4},
  datasets: [
    {label: p2Names[0], points: p2Tube18, color: '#000080', w: 5, order: 0, pr: 2.2, legendDot: 3, legendW: 4},
    {label: p2Names[1], points: p2Tube22, color: '#000000', w: 4, order: 1},
    {label: p2Names[2], points: p2Tube29, color: '#333333', w: 1.2, order: 2},
    {label: p2Names[3], points: p2Half1, color: '#99cc00', w: 6, order: 6, legendW: 4},
    {label: p2Names[4], points: p2Half6, color: '#ff0000', w: 5.5, order: 5, legendW: 4},
    {label: p2Names[5], points: p2Half7, color: '#ff33cc', w: 2.4, order: 4, legendW: 2},
    {label: p2Names[6], points: p2Half11, color: '#00ffff', w: 3, order: 3, legendW: 1.6}
  ],
  legend: {box: [822, 24, 221, 216], x0: 842, x1: 873, tx: 878, ys: [42, 72, 101.3, 130.3, 161.3, 192, 221], size: 16.5},
  texts: [
    {t: 'Comparison of Systems 0.25 l/min Inflow', x: 138, y: 48.5, align: 'left', size: 24.5},
    {t: 'All other tests done at', x: 477, y: 146, align: 'center', size: 22.5},
    {t: '0.6 or 1.9 m flow paths', x: 477, y: 173, align: 'center', size: 22.5},
    {t: '1/2 Scale #11', x: 908, y: 376, align: 'center', size: 22.5},
    {t: '3.9 m flow path', x: 908, y: 403, align: 'center', size: 22.5}
  ]
};

const P3 = {
  H: 608, area: {left: 97, right: 1074, top: 16, bottom: 533},
  xTicks: p3XTicks, yTicks: p3YTicks, xMax: 175, yMax: 100,
  yTitle: {text: 'Resistance to Inflow (kPa)', pad: 12},
  xTitle: {text: 'Testing Time (Hrs)', pad: 1.5},
  minorStep: 5,
  datasets: [
    {label: p3Names[0], points: p3Tube20, color: '#000066', w: 5, order: 1, legendW: 4},
    {label: p3Names[1], points: p3Scale2, color: '#0000ee', w: 5, order: 2, legendW: 4},
    {label: p3Names[2], points: p3Scale3, color: '#ff33dd', w: 3, order: 4, legendW: 2},
    {label: p3Names[3], points: p3Scale8, color: '#33ccee', w: 5.5, order: 3, legendW: 4},
    {label: p3Names[4], points: p3Scale12, color: '#a3cc2a', w: 2.2, order: 5, legendColor: '#dfe2b0', legendW: 2},
    {label: p3Names[5], points: p3Scale4, color: '#ff0000', w: 5, order: 0, legendColor: '#e04040', legendW: 2}
  ],
  legend: {box: [772, 168, 280, 174], x0: 795, x1: 828, tx: 833, ys: [184.7, 213.3, 241.7, 270, 297.3, 325.7], size: 16.5},
  texts: [
    {t: 'Inflow Rate of 0.5 l/min', x: 372, y: 36.5, align: 'left', size: 24},
    {t: '1/2 Scale Test 12', x: 921, y: 88, align: 'center', size: 22},
    {t: 'flow path 3.9 m', x: 921, y: 115, align: 'center', size: 22},
    {t: 'All other tests done at', x: 877, y: 391, align: 'center', size: 22},
    {t: '0.6 or 1.9 m flow path', x: 876, y: 416, align: 'center', size: 22}
  ]
};

const CONF = {c1: P1, c2: P2, c3: P3};

const overlay = {
  id: 'overlay',
  beforeDatasetsDraw(chart) {
    const P = CONF[chart.canvas.id];
    const {ctx, chartArea: a} = chart;
    ctx.save();
    ctx.strokeStyle = '#a8a8a8';
    ctx.lineWidth = 1.5;
    ctx.beginPath();
    ctx.moveTo(a.left, a.top); ctx.lineTo(a.right, a.top); ctx.lineTo(a.right, a.bottom);
    ctx.stroke();
    if (P.minorStep) {
      const xs = chart.scales.x, ys = chart.scales.y;
      ctx.strokeStyle = '#6a6a6a';
      ctx.lineWidth = 1.2;
      for (let v = P.minorStep; v < P.xMax; v += P.minorStep) {
        const px = xs.getPixelForValue(v);
        const len = (v % 25 === 0) ? 8 : 5;
        ctx.beginPath(); ctx.moveTo(px, a.bottom); ctx.lineTo(px, a.bottom - len); ctx.stroke();
      }
      for (let v = P.minorStep; v < P.yMax; v += P.minorStep) {
        const py = ys.getPixelForValue(v);
        ctx.beginPath(); ctx.moveTo(a.left, py); ctx.lineTo(a.left + 5, py); ctx.stroke();
      }
    }
    ctx.restore();
  },
  afterDatasetsDraw(chart) {
    const P = CONF[chart.canvas.id];
    const ctx = chart.ctx;
    const L = P.legend;
    ctx.save();
    ctx.fillStyle = '#ffffff';
    ctx.fillRect(L.box[0], L.box[1], L.box[2], L.box[3]);
    chart.data.datasets.forEach((d, i) => {
      const y = L.ys[i];
      const col = d.legendColor || d.borderColor;
      if (!d.legendCross) {
        ctx.strokeStyle = col;
        ctx.lineWidth = d.legendW || d.borderWidth;
        ctx.beginPath(); ctx.moveTo(L.x0, y); ctx.lineTo(L.x1, y); ctx.stroke();
      }
      if (d.legendDot) {
        ctx.fillStyle = col;
        ctx.beginPath(); ctx.arc((L.x0 + L.x1) / 2, y, d.legendDot, 0, Math.PI * 2); ctx.fill();
      }
      if (d.legendCross) {
        const cx = (L.x0 + L.x1) / 2, r = 3.5;
        ctx.strokeStyle = col; ctx.lineWidth = 2;
        ctx.beginPath();
        ctx.moveTo(cx - r, y - r); ctx.lineTo(cx + r, y + r);
        ctx.moveTo(cx + r, y - r); ctx.lineTo(cx - r, y + r);
        ctx.stroke();
      }
      ctx.fillStyle = '#111';
      ctx.font = 'bold ' + L.size + 'px ' + FONT;
      ctx.textAlign = 'left';
      ctx.textBaseline = 'middle';
      ctx.fillText(d.label, L.tx, y + 1);
    });
    P.texts.forEach(t => {
      ctx.fillStyle = '#111';
      ctx.font = 'bold ' + t.size + 'px ' + FONT;
      ctx.textAlign = t.align;
      ctx.textBaseline = 'middle';
      ctx.fillText(t.t, t.x, t.y);
    });
    ctx.restore();
  }
};

function makeChart(id) {
  const P = CONF[id];
  const tickFont = {family: FONT, size: 20, weight: 'bold'};
  const titleFont = {family: FONT, size: 21, weight: 'bold'};
  return new Chart(document.getElementById(id), {
    type: 'line',
    data: {
      datasets: P.datasets.map(d => ({
        label: d.label,
        data: d.points.map(p => ({x: p[0], y: p[1]})),
        borderColor: d.color,
        backgroundColor: d.color,
        borderWidth: d.w,
        pointRadius: d.pr || 0,
        pointHoverRadius: 0,
        pointStyle: d.ps || 'circle',
        pointBorderWidth: d.pbw || 0,
        pointBorderColor: d.color,
        pointBackgroundColor: d.color,
        tension: 0,
        fill: false,
        spanGaps: false,
        borderJoinStyle: 'round',
        borderCapStyle: 'round',
        order: d.order,
        legendDot: d.legendDot,
        legendCross: d.legendCross,
        legendColor: d.legendColor,
        legendW: d.legendW
      }))
    },
    options: {
      responsive: false,
      animation: false,
      devicePixelRatio: 1,
      events: [],
      layout: {padding: {left: 0, top: P.area.top, right: 1100 - P.area.right, bottom: 0}},
      plugins: {legend: {display: false}, tooltip: {enabled: false}},
      scales: {
        x: {
          type: 'linear', min: 0, max: P.xMax,
          afterBuildTicks: s => { s.ticks = P.xTicks.map(v => ({value: v})); },
          afterFit: s => { s.height = P.H - P.area.bottom; },
          ticks: {autoSkip: false, maxRotation: 0, minRotation: 0, padding: 13, color: '#000', font: tickFont},
          grid: {drawOnChartArea: false, drawTicks: true, tickLength: 7, tickColor: '#707070', tickWidth: 1.5},
          border: {display: true, color: '#5a5a5a', width: 2},
          title: P.xTitle ? {display: true, text: P.xTitle.text, color: '#000', font: titleFont, padding: {top: 0, bottom: P.xTitle.pad}} : {display: false}
        },
        y: {
          type: 'linear', min: 0, max: P.yMax,
          afterBuildTicks: s => { s.ticks = P.yTicks.map(v => ({value: v})); },
          afterFit: s => { s.width = P.area.left; },
          ticks: {autoSkip: false, padding: 8, color: '#000', font: tickFont},
          grid: {drawOnChartArea: true, color: '#bdbdbd', lineWidth: 1.5, drawTicks: true, tickLength: 7, tickColor: '#8a8a8a', tickWidth: 1.5},
          border: {display: true, color: '#7a7a7a', width: 2},
          title: {display: true, text: P.yTitle.text, color: '#000', font: titleFont, padding: {top: P.yTitle.pad, bottom: 0}}
        }
      }
    },
    plugins: [overlay]
  });
}

makeChart('c1');
makeChart('c2');
makeChart('c3');
</script>
</body></html>
